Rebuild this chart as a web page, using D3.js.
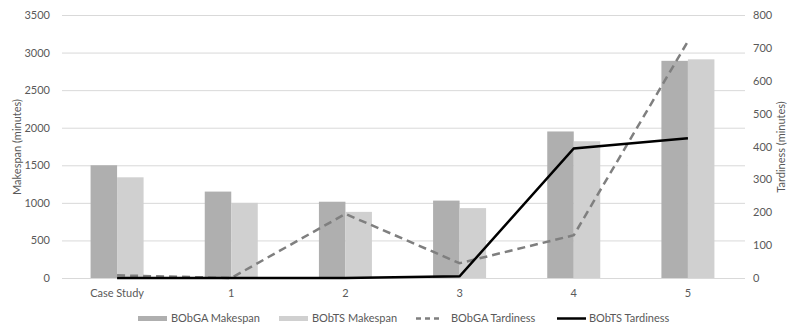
<!DOCTYPE html>
<html><head><meta charset="utf-8">
<script src="https://cdn.jsdelivr.net/npm/d3@7"></script>
<style>body{margin:0;background:#fff}text{font-family:Lato,"Open Sans",sans-serif;fill:#595959}</style>
</head><body><svg id="c" width="787" height="327"></svg>
<script>
const categories = ["Case Study","1","2","3","4","5"];
const bobgaMakespan = [1500,1150,1015,1030,1950,2890];
const bobtsMakespan = [1340,1000,880,930,1820,2910];
const bobgaTardiness = [8,0,195,45,130,720];
const bobtsTardiness = [0,0,0,5,394,425];
const leftTicks = [0,500,1000,1500,2000,2500,3000,3500];
const rightTicks = [0,100,200,300,400,500,600,700,800];

const svg = d3.select("#c");
const L=60,R=745,T=15,B=278;
const x = d3.scaleBand().domain(categories).range([L,R]);
const yL = d3.scaleLinear().domain([0,3500]).range([B,T]);
const yR = d3.scaleLinear().domain([0,800]).range([B,T]);
const bw = 26.5;

svg.append("g").selectAll("line").data(leftTicks).join("line")
  .attr("x1",L+2).attr("x2",R).attr("y1",d=>yL(d)+0.5).attr("y2",d=>yL(d)+0.5)
  .attr("stroke","#d9d9d9").attr("stroke-width",1);

svg.append("g").selectAll("text").data(leftTicks).join("text")
  .attr("x",50).attr("y",d=>yL(d)+4).attr("text-anchor","end").attr("font-size",11).text(d=>d);
svg.append("g").selectAll("text").data(rightTicks).join("text")
  .attr("x",753).attr("y",d=>yR(d)+4).attr("text-anchor","start").attr("font-size",11).text(d=>d);

const cx = d=>x(d)+x.bandwidth()/2;
svg.append("g").selectAll("rect").data(categories).join("rect")
  .attr("x",d=>cx(d)-bw).attr("width",bw)
  .attr("y",(d,i)=>yL(bobgaMakespan[i])).attr("height",(d,i)=>B-yL(bobgaMakespan[i]))
  .attr("fill","#afafaf");
svg.append("g").selectAll("rect").data(categories).join("rect")
  .attr("x",d=>cx(d)).attr("width",bw)
  .attr("y",(d,i)=>yL(bobtsMakespan[i])).attr("height",(d,i)=>B-yL(bobtsMakespan[i]))
  .attr("fill","#d0d0d0");

const line = arr => d3.line().x((d,i)=>cx(categories[i])).y(d=>yR(d))(arr);
svg.append("path").attr("d",line(bobgaTardiness)).attr("fill","none")
  .attr("stroke","#7f7f7f").attr("stroke-width",2.5).attr("stroke-dasharray","8,5");
svg.append("path").attr("d",line(bobtsTardiness)).attr("fill","none")
  .attr("stroke","#000").attr("stroke-width",2.5);

svg.append("g").selectAll("text").data(categories).join("text")
  .attr("x",d=>cx(d)).attr("y",297).attr("text-anchor","middle").attr("font-size",11).text(d=>d);

svg.append("text").attr("transform","translate(21,147) rotate(-90)")
  .attr("text-anchor","middle").attr("font-size",11).text("Makespan (minutes)");
svg.append("text").attr("transform","translate(785,147) rotate(-90)")
  .attr("text-anchor","middle").attr("font-size",11).text("Tardiness (minutes)");

const legend = [
  {label:"BObGA Makespan",type:"rect",color:"#afafaf",x:138,w:29,tx:171},
  {label:"BObTS Makespan",type:"rect",color:"#d0d0d0",x:279,w:29,tx:312},
  {label:"BObGA Tardiness",type:"dash",color:"#7f7f7f",x:416,w:23,tx:451},
  {label:"BObTS Tardiness",type:"line",color:"#000",x:557,w:29,tx:589}
];
const lg = svg.append("g").selectAll("g").data(legend).join("g");
lg.filter(d=>d.type==="rect").append("rect").attr("x",d=>d.x).attr("y",316).attr("width",d=>d.w).attr("height",5).attr("fill",d=>d.color);
lg.filter(d=>d.type!=="rect").append("line").attr("x1",d=>d.x).attr("x2",d=>d.x+d.w).attr("y1",318.5).attr("y2",318.5)
  .attr("stroke",d=>d.color).attr("stroke-width",2.5).attr("stroke-dasharray",d=>d.type==="dash"?"5,4":null);
lg.append("text").attr("x",d=>d.tx).attr("y",322).attr("font-size",11).text(d=>d.label);
</script></body></html>
